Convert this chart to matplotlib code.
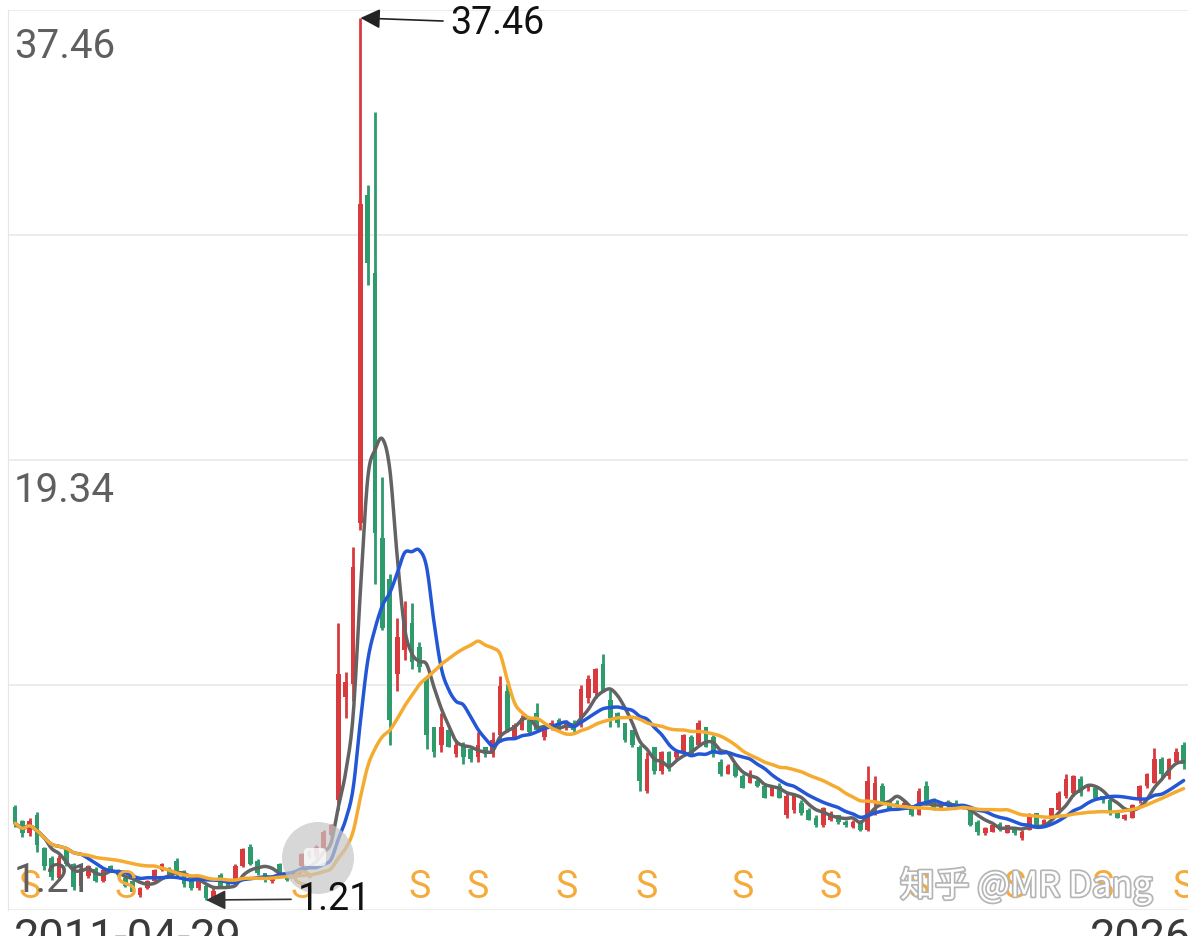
import matplotlib
matplotlib.use("Agg")
import matplotlib.pyplot as plt
import numpy as np
import pandas as pd
from matplotlib import patheffects as pe
from matplotlib.patches import Circle, FancyBboxPatch
from matplotlib.transforms import IdentityTransform

plt.rcParams['font.family'] = ['Roboto', 'Noto Sans CJK SC', 'DejaVu Sans']

# monthly candles, first one is 2011-04-29
opens = [5.03, 4.45, 3.95, 4.70, 3.35, 2.95, 2.10, 3.30, 2.70, 1.80,
         2.20, 2.50, 2.00, 2.60, 2.45, 2.10, 2.00, 1.40, 1.70, 2.00,
         2.45, 2.50, 2.80, 2.40, 2.00, 1.70, 1.80, 1.30, 2.25, 1.95,
         1.85, 2.60, 3.40, 2.80, 2.30, 1.98, 2.70, 2.20, 2.20, 2.60,
         3.20, 3.00, 3.30, 3.90, 5.32, 9.55, 10.10, 16.70, 30.20, 27.00,
         16.10, 14.40, 10.50, 11.50, 12.60, 11.60, 10.25, 8.30, 7.60, 8.20,
         7.20, 7.60, 7.40, 7.10, 7.50, 7.20, 8.00, 9.80, 7.90, 8.20,
         8.60, 8.90, 7.90, 8.30, 8.60, 8.30, 8.50, 8.50, 9.50, 9.70,
         10.90, 9.43, 8.90, 8.50, 8.20, 7.50, 5.70, 7.50, 6.50, 7.30,
         7.10, 7.30, 7.90, 7.60, 8.30, 7.90, 6.90, 6.40, 6.80, 6.30,
         6.00, 6.10, 5.90, 5.50, 5.90, 4.70, 4.90, 5.20, 4.90, 4.60,
         4.30, 4.50, 4.70, 4.40, 4.20, 4.45, 4.10, 5.20, 5.90, 5.25,
         5.20, 5.10, 4.95, 4.70, 5.90, 5.30, 4.95, 5.20, 5.20, 5.00,
         4.90, 4.40, 3.95, 4.00, 4.35, 3.95, 4.20, 3.75, 4.10, 4.80,
         4.30, 4.60, 4.90, 5.50, 5.60, 6.20, 5.80, 5.80, 5.50, 5.30,
         4.80, 4.55, 4.60, 5.30, 5.90, 6.00, 7.00, 6.30, 6.90, 7.60]
closes = [4.37, 3.95, 4.45, 3.45, 2.60, 2.15, 2.95, 2.70, 1.75, 2.50,
          2.60, 2.00, 2.45, 2.40, 2.25, 1.80, 1.55, 1.70, 2.00, 2.45,
          2.70, 2.20, 2.30, 1.85, 1.70, 2.20, 1.30, 1.60, 1.80, 1.75,
          2.60, 3.30, 2.70, 2.30, 2.05, 2.20, 2.25, 2.05, 2.40, 3.10,
          3.00, 3.40, 4.00, 4.30, 10.50, 10.17, 14.90, 29.80, 27.40, 16.30,
          12.40, 8.60, 12.00, 12.70, 11.00, 10.80, 8.00, 7.30, 8.30, 7.50,
          7.60, 7.10, 7.00, 7.60, 7.20, 7.80, 10.00, 8.20, 8.40, 8.70,
          8.10, 8.20, 8.30, 8.50, 8.30, 8.50, 8.20, 9.90, 10.30, 10.70,
          9.80, 8.70, 8.50, 7.80, 7.60, 6.10, 7.00, 6.50, 7.30, 6.60,
          7.30, 8.00, 7.20, 8.50, 7.50, 7.20, 6.40, 6.70, 6.30, 5.80,
          6.40, 5.90, 5.40, 5.90, 5.40, 5.50, 5.50, 4.80, 4.50, 4.30,
          5.00, 4.80, 4.40, 4.30, 4.40, 4.10, 6.10, 6.00, 5.20, 4.95,
          5.10, 5.20, 4.70, 5.70, 5.10, 4.95, 5.10, 5.10, 5.00, 5.05,
          4.30, 4.00, 4.15, 4.30, 4.10, 4.30, 3.95, 4.00, 4.70, 4.20,
          4.50, 5.00, 5.60, 6.20, 6.30, 5.60, 5.90, 5.40, 5.30, 4.80,
          4.60, 4.70, 5.10, 5.90, 6.40, 7.00, 6.40, 7.00, 7.30, 6.80]
highs = [5.11, 4.50, 4.60, 4.83, 3.40, 3.00, 3.06, 3.40, 2.75, 2.55,
         2.65, 2.55, 2.50, 2.65, 2.50, 2.15, 2.03, 1.75, 2.03, 2.50,
         2.75, 2.55, 2.95, 2.45, 2.03, 2.25, 1.85, 1.70, 2.30, 2.00,
         2.70, 3.35, 3.50, 2.90, 2.30, 2.24, 2.75, 2.30, 2.45, 3.15,
         3.27, 3.45, 4.10, 4.35, 12.60, 10.60, 15.70, 37.46, 30.60, 33.60,
         18.60, 14.60, 12.80, 13.50, 13.40, 11.80, 10.40, 8.30, 8.90, 8.25,
         7.80, 7.70, 7.50, 8.10, 7.50, 8.10, 10.40, 10.10, 8.50, 8.80,
         8.60, 9.30, 8.40, 8.60, 8.70, 8.60, 8.60, 10.05, 10.46, 10.75,
         11.30, 9.84, 8.95, 8.50, 8.20, 7.60, 7.30, 7.50, 7.35, 7.35,
         7.35, 8.05, 8.00, 8.60, 8.30, 8.00, 7.00, 6.80, 6.90, 6.40,
         6.55, 6.20, 6.00, 5.94, 6.00, 5.60, 5.60, 5.30, 4.98, 4.70,
         5.05, 4.85, 4.70, 4.50, 4.50, 4.50, 6.70, 6.30, 6.00, 5.30,
         5.30, 5.30, 5.00, 5.80, 6.10, 5.40, 5.15, 5.30, 5.30, 5.10,
         4.95, 4.50, 4.20, 4.30, 4.40, 4.30, 4.20, 4.10, 4.80, 4.80,
         4.55, 5.00, 5.70, 6.40, 6.35, 6.30, 5.90, 5.85, 5.50, 5.35,
         4.80, 4.75, 5.15, 5.95, 6.45, 7.45, 7.10, 7.05, 7.45, 7.70]
lows = [4.21, 3.80, 3.85, 3.20, 2.44, 2.03, 2.03, 2.60, 1.62, 1.62,
        2.10, 1.95, 1.95, 2.35, 2.20, 1.75, 1.50, 1.35, 1.65, 1.95,
        2.40, 2.15, 2.15, 1.75, 1.62, 1.62, 1.21, 1.28, 1.75, 1.70,
        1.80, 2.55, 2.65, 2.24, 1.95, 1.90, 2.20, 2.00, 2.15, 2.55,
        2.95, 2.95, 3.25, 3.85, 4.91, 8.70, 9.40, 16.40, 26.50, 14.20,
        12.30, 7.60, 9.80, 11.07, 10.70, 10.60, 7.40, 7.10, 7.30, 7.50,
        7.10, 6.80, 6.90, 6.90, 7.10, 7.10, 7.70, 8.10, 7.90, 8.20,
        8.00, 8.20, 7.80, 8.20, 8.20, 8.20, 8.10, 8.30, 9.30, 9.50,
        9.75, 8.30, 8.30, 7.70, 7.50, 5.70, 5.60, 6.40, 6.40, 6.50,
        7.00, 7.30, 7.15, 7.55, 7.50, 7.10, 6.30, 6.40, 6.25, 5.80,
        6.00, 5.85, 5.40, 5.50, 5.40, 4.60, 4.80, 4.70, 4.50, 4.20,
        4.20, 4.45, 4.35, 4.20, 4.15, 4.05, 4.05, 4.70, 5.10, 4.90,
        5.05, 5.05, 4.65, 4.70, 5.10, 4.90, 4.90, 5.05, 4.95, 4.95,
        4.25, 3.90, 3.90, 4.00, 4.05, 3.95, 3.88, 3.67, 4.09, 4.20,
        4.30, 4.60, 4.90, 5.40, 5.50, 5.50, 5.70, 5.30, 5.20, 4.70,
        4.60, 4.50, 4.60, 5.20, 5.80, 6.00, 6.20, 6.20, 6.90, 6.60]

sell_marks = [2, 15, 39, 55, 63, 75, 86, 99, 111, 123, 136, 148, 159]
first_date = "2011-04-29"
last_date = "2026-"
ma_periods = [5, 10, 20]
ma_colors = ['#636363', '#2357d6', '#f5aa30']

UP = '#d93a3d'
DOWN = '#2e9b6c'


def smooth(xs, ys, n=10):
    # catmull-rom through the points, only for drawing
    p = np.column_stack([xs, ys])
    q = np.vstack([p[0], p, p[-1]])
    t = np.linspace(0, 1, n, endpoint=False)[:, None]
    out = []
    for i in range(len(p) - 1):
        p0, p1, p2, p3 = q[i], q[i + 1], q[i + 2], q[i + 3]
        out.append(0.5 * (2 * p1 + (p2 - p0) * t
                          + (2 * p0 - 5 * p1 + 4 * p2 - p3) * t ** 2
                          + (3 * p1 - p0 - 3 * p2 + p3) * t ** 3))
    out.append(p[-1:])
    out = np.vstack(out)
    return out[:, 0], out[:, 1]


W, H = 1188, 936
fig = plt.figure(figsize=(W / 100, H / 100), dpi=100)
ax = fig.add_axes([8 / W, 26 / H, 1180 / W, 900 / H])

o = np.array(opens)
c = np.array(closes)
hi = np.array(highs)
lo = np.array(lows)
x = np.arange(len(c))

top, bot = hi.max(), lo.min()
ppu = 882 / (top - bot)          # pixels per unit
y0 = bot - 10 / ppu
y1 = top + 8 / ppu
ax.set_xlim(-0.95, -0.95 + 1180 / 7.35)
ax.set_ylim(y0, y1)

for i in range(5):
    ax.axhline(y0 + i * (y1 - y0) / 4, color='#e9e9e9', lw=1.2, zorder=0)

# candles
cols = [UP if cc >= oo else DOWN for oo, cc in zip(o, c)]
ax.vlines(x, lo, hi, colors=cols, lw=2.0, zorder=2)
body = np.maximum(np.abs(c - o), 0.08)
ax.bar(x, body, bottom=np.minimum(o, c), width=0.64, color=cols, zorder=2)

# moving averages
s = pd.Series(c)
for n, col in zip(ma_periods, ma_colors):
    sx, sy = smooth(x, s.rolling(n, min_periods=1).mean().values)
    ax.plot(sx, sy, color=col, lw=2.5, zorder=3, solid_capstyle='round',
            solid_joinstyle='round')

for sp in ['top', 'right', 'bottom']:
    ax.spines[sp].set_visible(False)
ax.spines['left'].set_color('#e6e6e6')
ax.set_xticks([])
ax.set_yticks([])


def ay(py):
    return (910 - py) / 900


def ax_(px):
    return (px - 8) / 1180


# price labels on the left
for v, py in [(top, 47), ((top + bot) / 2, 490), (bot, 880)]:
    ax.text(ax_(14), ay(py), f"{v:.2f}", transform=ax.transAxes, fontsize=29,
            color='#5f5f5f', ha='left', va='center', zorder=6)

# sell markers
for k in sell_marks:
    ax.text(k, ay(887), 'S', transform=ax.get_xaxis_transform(), fontsize=27,
            color='#f4ab3c', ha='center', va='center', zorder=4)

# touch circle
ax.add_artist(Circle((318, H - 858), 36, transform=IdentityTransform(),
                     facecolor='#c6c6c6', alpha=0.7, edgecolor='none', zorder=5))
ax.add_artist(FancyBboxPatch((304, H - 866), 22, 18, boxstyle='round,pad=0,rounding_size=4',
                             transform=IdentityTransform(), facecolor='white',
                             alpha=0.75, edgecolor='none', zorder=5))

# max / min annotations
kmax, kmin = int(hi.argmax()), int(lo.argmin())
ax.annotate(f"{top:.2f}", xy=(kmax, top), xytext=(450, H - 23),
            textcoords='figure pixels', fontsize=27, color='#111111',
            ha='left', va='center', zorder=7,
            arrowprops=dict(arrowstyle='-|>', color='#222222', lw=1.2,
                            mutation_scale=30, shrinkA=3, shrinkB=0))
ax.annotate(f"{bot:.2f}", xy=(kmin, bot), xytext=(298, H - 899),
            textcoords='figure pixels', fontsize=27, color='#111111',
            ha='left', va='center', zorder=7, annotation_clip=False,
            arrowprops=dict(arrowstyle='-|>', color='#333333', lw=1.2,
                            mutation_scale=30, shrinkA=3, shrinkB=0))

# date labels, partly cut by the bottom edge
fig.text(14 / W, (H - 951) / H, first_date, fontsize=32.5, color='#3a3a3a',
         ha='left', va='baseline')
fig.text(1090 / W, (H - 951) / H, last_date, fontsize=32.5, color='#3a3a3a',
         ha='left', va='baseline')

# watermark
fig.text(900 / W, (H - 886) / H, '知乎 @MR Dang', fontsize=25, color='white',
         family=['Noto Sans CJK SC', 'DejaVu Sans'], ha='left', va='center',
         zorder=10, path_effects=[pe.withStroke(linewidth=2.5, foreground='#b5b5b5')])

fig.savefig('out.png', dpi=100)
